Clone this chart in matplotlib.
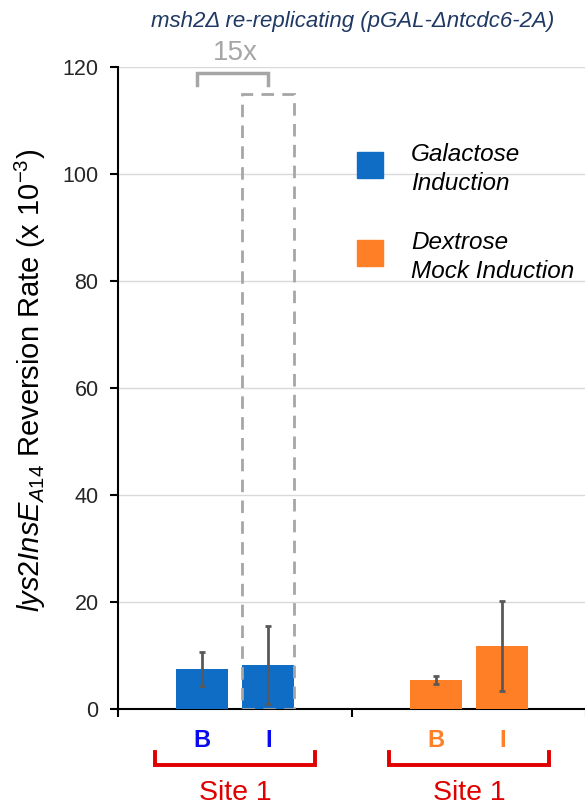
import matplotlib
matplotlib.use("Agg")
import matplotlib.pyplot as plt
import matplotlib.transforms as mtransforms
from matplotlib.patches import Rectangle
import numpy as np

plt.rcParams['font.family'] = ['Liberation Sans', 'DejaVu Sans']
plt.rcParams['mathtext.fontset'] = 'custom'
plt.rcParams['mathtext.rm'] = 'Liberation Sans'
plt.rcParams['mathtext.it'] = 'Liberation Sans:italic'
plt.rcParams['mathtext.bf'] = 'Liberation Sans:bold'

# ---- data ----
groups = ["Galactose\nInduction", "Dextrose\nMock Induction"]
conditions = ["B", "I"]
galactose_vals = [7.5, 8.3]
galactose_err = [3.2, 7.35]
dextrose_vals = [5.5, 11.8]
dextrose_err = [0.8, 8.45]
projected_I = 115           # dashed "15x" projection over galactose I
fold_label = "15x"
site_labels = ["Site 1", "Site 1"]
yticks = [0, 20, 40, 60, 80, 100, 120]

blue = "#0F6DC6"
orange = "#FF7F27"
err_col = "#595959"
gray = "#A6A6A6"
red = "#E00000"

W, H = 585, 805
fig = plt.figure(figsize=(W / 100, H / 100), dpi=100)
ax = fig.add_axes([118 / W, 1 - 709.3 / H, 468 / W, 642 / H])

offset = 0.142
width = 0.222
centers = np.arange(len(groups))
series = [(galactose_vals, galactose_err, blue), (dextrose_vals, dextrose_err, orange)]

for g, (vals, errs, col) in enumerate(series):
    xs = centers[g] + np.array([-offset, offset])
    ax.bar(xs, vals, width=width, color=col, zorder=3)
    ax.errorbar(xs, vals, yerr=errs, fmt='none', ecolor=err_col, elinewidth=2,
                capsize=2.2, capthick=2, zorder=4)

# dashed projection bar
ax.bar(centers[0] + offset, projected_I, width=width, fill=False, edgecolor=gray,
       linewidth=2, linestyle=(0, (4.5, 3)), zorder=5)

# bracket + fold label
bx0, bx1 = centers[0] - offset - 0.02, centers[0] + offset
ax.plot([bx0, bx0, bx1, bx1], [116.6, 118.9, 118.9, 116.6], color=gray, lw=2.5,
        clip_on=False, zorder=6, solid_joinstyle='miter')
ax.text(centers[0], 122.6, fold_label, color=gray, fontsize=20, ha='center', va='center')

ax.set_xlim(-0.5, 1.5)
ax.set_ylim(0, 120)
ax.set_yticks(yticks)
ax.set_yticklabels([str(t) for t in yticks], fontsize=15.5, color="#262626")
ax.set_xticks([-0.5, 0.5, 1.5])
ax.set_xticklabels([])
ax.tick_params(axis='both', direction='out', length=6, width=1.5, color='black')
ax.tick_params(axis='y', pad=8)
ax.grid(axis='y', color='#D9D9D9', lw=1, zorder=0)
ax.set_axisbelow(True)
for s in ['top', 'right']:
    ax.spines[s].set_visible(False)
for s in ['left', 'bottom']:
    ax.spines[s].set_linewidth(1.5)
    ax.spines[s].set_color('black')

# category labels and red brackets below axis
trans = mtransforms.blended_transform_factory(ax.transData, fig.transFigure)
cond_colors = [["#0A0AF0", "#0A0AF0"], [orange, orange]]
for g in range(len(groups)):
    for k, c in enumerate(conditions):
        x = centers[g] + (-offset if k == 0 else offset)
        ax.text(x, 1 - 740 / H, c, transform=trans, ha='center', va='center',
                fontsize=17, fontweight='bold', color=cond_colors[g][k])
    x0, x1 = centers[g] - 0.34, centers[g] + 0.34
    ax.plot([x0, x0, x1, x1], [1 - 752 / H, 1 - 765 / H, 1 - 765 / H, 1 - 752 / H],
            transform=trans, color=red, lw=2.8, clip_on=False, solid_joinstyle='miter')
    ax.text(centers[g], 1 - 792.5 / H, site_labels[g], transform=trans, ha='center',
            va='center', fontsize=20.5, color=red)

# legend (manual)
leg_cols = [blue, orange]
leg_y = [165, 253]
for lab, col, yc in zip(groups, leg_cols, leg_y):
    fig.patches.append(Rectangle((357 / W, 1 - (yc + 13) / H), 26 / W, 26 / H,
                                 transform=fig.transFigure, color=col, figure=fig))
    fig.text(411 / W, 1 - (yc + 4) / H, lab, ha='left', va='center', fontsize=17.5,
             style='italic', color='black', linespacing=1.3)

# y label
fig.text(30 / W, 1 - 380 / H,
         r"$\it{lys2InsE}_{\it{A14}}$ Reversion Rate (x 10$^{-3}$)",
         rotation=90, ha='center', va='center', fontsize=21, color='black')

# title
fig.text(353 / W, 1 - 22 / H, "msh2Δ re-replicating (pGAL-Δntcdc6-2A)",
         ha='center', va='center', fontsize=16, style='italic', color="#1F3864")

fig.savefig("out.png", dpi=100)
